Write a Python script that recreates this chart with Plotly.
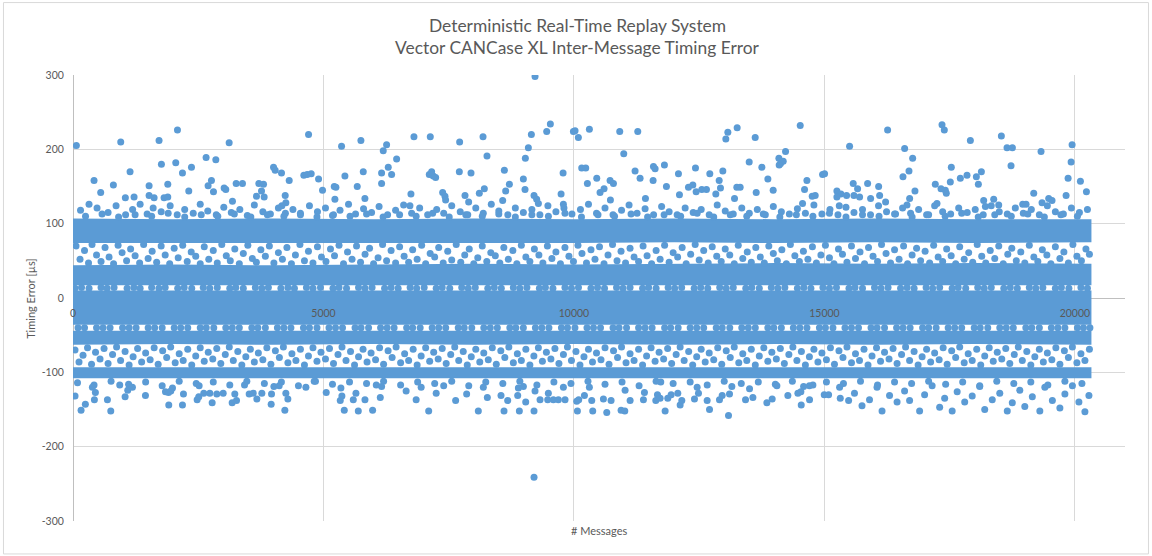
import plotly.graph_objects as go

BLUE = "#5B9BD5"
TXT = "#595959"
GRID = "#D9D9D9"

# ---- titles ----
title_lines = ["Deterministic Real-Time Replay System",
               "Vector CANCase XL Inter-Message Timing Error"]
x_title = "# Messages"
y_title = "Timing Error [µs]"

# ---- axis ticks ----
x_tick_vals = [0, 5000, 10000, 15000, 20000]
x_tick_text = ["0", "5000", "10000", "15000", "20000"]
y_tick_vals = [-300, -200, -100, 0, 100, 200, 300]
y_tick_text = ["-300", "-200", "-100", "0", "100", "200", "300"]

# ---- dense bands (visual extent, µs) ----
band_x = [0, 2000, 4000, 6000, 8000, 10000, 12000, 14000, 16000, 18000, 20330]
top_hi = [107, 106, 107, 106, 107, 106, 107, 106, 107, 106, 106]
top_lo = [74, 75, 74, 75, 74, 74, 75, 74, 75, 74, 75]
mid_hi = [44, 45, 44, 45, 46, 45, 46, 47, 46, 47, 46]
mid_lo = [17, 17, 17, 17, 17, 17, 17, 17, 17, 17, 17]
cen_hi = [10, 10, 10, 10, 10, 10, 10, 10, 10, 10, 10]
cen_lo = [-36, -36, -36, -36, -36, -36, -36, -36, -36, -36, -36]
low_hi = [-44, -44, -44, -44, -44, -44, -44, -44, -44, -44, -44]
low_lo = [-63, -62, -63, -62, -63, -62, -63, -62, -63, -62, -63]
bot_hi = [-93, -93, -93, -93, -93, -93, -93, -93, -93, -93, -93]
bot_lo = [-108, -108, -108, -108, -108, -108, -108, -108, -108, -108, -108]

# ---- individual messages (x = message #, y = timing error µs) ----
top_outliers = [(67,205),(953,210),(1718,212),(2085,226),(3117,209),(4702,220),(5361,204),(5747,212),(6193,198),(6260,206),(6460,187),(6806,217),(7132,217),(7718,210),(8185,217),(8264,191),(9090,202),(9030,188),(9150,220),(9456,224),(9529,234),(9989,224),(9223,298),
(420,158),(806,152),(553,142),(1139,170),(1045,135),(1219,136),(1519,151),(1519,138),(1619,135),(1765,180),(1892,153),(1818,135),(1892,136),(2051,182),(2185,168),(2365,176),(2311,144),(2657,189),(2851,186),(2764,158),(2697,151),(2804,143),(3017,148),(3050,146),(3183,130),(3257,154),(3383,154),(3710,154),(3803,153),(3763,144),(3663,137),(3816,136),(4003,176),(4036,172),(4162,168),(4316,158),(4236,138),(4249,128),(4169,124),(4608,165),(4675,166),(4755,167),(4902,160),(4981,145),(5215,150),(5248,149),(5228,133),(5428,164),(5674,150),(5827,134),(5794,170),(6160,168),(6160,154),(6360,166),(6293,176),(6746,140),(6726,124),(7112,166),(7192,164),(7159,170),(7239,162),(7379,142),(7425,137),(7438,132),(7712,170),(7945,168),(7825,138),(7898,129),(8111,141),(8211,147),(8611,172),(8637,144),(8711,153),(8577,131),(8990,160),(9023,146),(9203,138),(9256,133),(9290,127),(9783,168),(9743,140),(9789,126),
(10022,225),(10088,216),(10308,227),(10914,224),(11274,224),(10994,194),(10155,175),(10235,175),(10455,161),(10268,154),(10721,158),(10788,154),(10521,142),(10601,147),(10728,132),(11220,171),(11320,161),(11587,177),(11620,174),(11806,179),(11580,158),(11427,134),(11846,150),(12086,167),(12106,139),(12426,175),(12286,149),(12373,152),(12439,143),(12552,146),(12645,146),(12712,167),(12832,140),(12899,158),(12925,148),(12972,171),(13032,214),(13072,223),(13258,229),(13618,216),(13498,183),(13751,176),(13871,160),(13977,145),(13638,142),(13251,149),(13318,149),(13205,134),(14091,188),(14124,181),(14177,184),(14224,197),(14097,179),(14517,232),(14650,158),(14603,146),(14563,127),(14756,137),(14816,138),(14963,166),(15003,167),(15249,144),(15329,140),(15249,136),(15296,124),(15442,138),(15575,154),(15662,147),(15589,138),(15702,136),(15502,204),(15862,154),(15922,134),(16082,150),(16102,138),(16261,226),(16221,129),(16601,201),(16761,188),(16688,171),(16568,163),(16807,144),(16701,134),(16648,125),(17347,233),(17393,226),(17213,153),(17327,147),(17413,145),(17513,156),(17533,176),(17433,141),(17247,127),(17913,212),(17713,161),(17846,165),(18033,163),(18133,170),(18073,153),(18532,218),(18645,202),(18752,202),(18725,178),(18179,131),(18379,133),(18479,125),(18213,123),(19324,197),(19178,141),(19344,128),(19477,134),(19543,131),(19944,206),(19924,183),(19864,161),(19824,138),(20110,157),(20230,143),(18958,126),(19025,126)]

near_top = [(150,118),(320,126),(480,121),(700,115),(860,124),(1050,112),(1190,119),(1340,126),(1480,113),(1600,121),(1760,116),(1940,124),(2080,112),(2230,119),(2400,114),(2540,126),(2690,117),(2860,112),(3010,122),(3160,115),(3330,119),(3480,111),(3620,125),(3790,116),(3940,113),(4100,121),(4240,114),(4390,119),(4540,112),(4720,124),(4880,116),(5040,121),(5180,111),(5330,118),(5500,126),(5640,113),(5800,120),(5960,115),(6110,123),(6280,112),(6440,118),(6600,125),(6760,114),(6920,121),(7080,112),(7260,119),(7400,114),(7560,124),(7730,116),(7880,112),(8040,121),(8190,114),(8350,126),(8500,117),(8680,112),(8830,121),(8990,115),(9160,119),(9320,112),(9480,124),(9640,116),(9800,121),(9960,113),(10130,119),(10290,126),(10450,114),(10620,121),(10780,112),(10950,118),(11100,125),(11260,114),(11420,120),(11590,112),(11750,123),(11900,116),(12060,112),(12220,121),(12380,115),(12540,119),(12700,112),(12860,125),(13020,117),(13180,113),(13350,121),(13500,114),(13660,119),(13820,112),(13980,123),(14140,116),(14300,113),(14460,120),(14620,114),(14790,125),(14950,113),(15110,119),(15270,112),(15430,122),(15590,115),(15760,119),(15920,112),(16080,124),(16240,116),(16400,113),(16560,121),(16720,114),(16880,119),(17040,112),(17200,124),(17360,116),(17520,113),(17680,121),(17850,115),(18010,119),(18170,112),(18330,124),(18490,116),(18650,113),(18810,121),(18970,114),(19130,119),(19290,112),(19450,124),(19610,116),(19770,113),(19930,121),(20090,115),(20250,119)]

near_top2 = [(250,110),(580,113),(910,109),(1240,112),(1570,110),(1900,114),(2230,109),(2560,112),(2890,110),(3220,113),(3550,109),(3880,112),(4210,110),(4540,114),(4870,109),(5200,112),(5530,110),(5860,113),(6190,109),(6520,112),(6850,110),(7180,114),(7510,109),(7840,112),(8170,110),(8500,113),(8830,109),(9160,112),(9490,110),(9820,114),(10150,109),(10480,112),(10810,110),(11140,113),(11470,109),(11800,112),(12130,110),(12460,114),(12790,109),(13120,112),(13450,110),(13780,113),(14110,109),(14440,112),(14770,110),(15100,114),(15430,109),(15760,112),(16090,110),(16420,113),(16750,109),(17080,112),(17410,110),(17740,114),(18070,109),(18400,112),(18730,110),(19060,113),(19390,109),(19720,112),(20050,110)]

gap_hi = [(60,70),(140,52),(230,64),(310,47),(380,72),(470,58),(560,49),(640,68),(720,55),(810,46),(900,71),(980,61),(1070,50),(1150,66),(1240,57),(1330,47),(1410,72),(1500,53),(1580,63),(1670,48),(1760,70),(1840,58),(1930,46),(2020,67),(2100,54),(2190,71),(2280,49),(2360,62),(2450,56),(2540,46),(2620,69),(2710,52),(2800,64),(2880,47),(2970,72),(3060,57),(3140,50),(3230,66),(3320,46),(3400,60),(3490,71),(3580,53),(3660,48),(3750,65),(3840,56),(3920,70),(4010,47),(4100,61),(4180,52),(4270,68),(4360,46),(4440,58),(4530,72),(4620,50),(4700,63),(4790,47),(4880,69),(4960,55),(5050,49),(5140,66),(5220,57),(5310,71),(5400,46),(5480,62),(5570,52),(5660,70),(5740,48),(5830,59),(5920,67),(6000,46),(6090,54),(6180,72),(6260,50),(6350,64),(6440,47),(6520,69),(6610,56),(6700,48),(6780,65),(6870,52),(6960,71),(7040,46),(7130,60),(7220,55),(7300,68),(7390,47),(7480,63),(7560,51),(7650,72),(7740,48),(7820,58),(7910,66),(8000,46),(8080,54),(8170,70),(8260,49),(8340,61),(8430,57),(8520,47),(8600,68),(8690,52),(8780,64),(8860,46),(8950,71),(9040,55),(9120,49),(9210,66),(9300,58),(9380,47),(9470,70),(9560,53),(9640,62),(9730,46),(9820,68),(9900,56),(9990,49),(10080,71),(10160,60),(10250,47),(10340,65),(10420,52),(10510,69),(10600,46),(10680,58),(10770,72),(10860,50),(10940,63),(11030,47),(11120,67),(11200,55),(11290,49),(11380,70),(11460,57),(11550,46),(11640,64),(11720,52),(11810,71),(11900,48),(11980,61),(12070,55),(12160,68),(12240,46),(12330,59),(12420,72),(12500,51),(12590,64),(12680,47),(12760,69),(12850,56),(12940,49),(13020,66),(13110,58),(13200,46),(13280,71),(13370,53),(13460,62),(13540,48),(13630,68),(13720,55),(13800,47),(13890,70),(13980,60),(14060,50),(14150,65),(14240,46),(14320,72),(14410,57),(14500,49),(14580,63),(14670,52),(14760,69),(14840,47),(14930,58),(15020,71),(15100,54),(15190,46),(15280,66),(15360,59),(15450,48),(15540,70),(15620,53),(15710,62),(15800,46),(15880,68),(15970,56),(16060,49),(16140,72),(16230,60),(16320,47),(16400,65),(16490,52),(16580,70),(16660,46),(16750,58),(16840,67),(16920,50),(17010,63),(17100,47),(17180,71),(17270,55),(17360,49),(17440,66),(17530,57),(17620,46),(17700,69),(17790,52),(17880,61),(17960,48),(18050,72),(18140,56),(18220,47),(18310,64),(18400,53),(18480,70),(18570,46),(18660,59),(18740,67),(18830,50),(18920,62),(19000,47),(19090,71),(19180,55),(19260,49),(19350,65),(19440,58),(19520,46),(19610,69),(19700,53),(19780,62),(19870,47),(19960,72),(20040,56),(20130,50),(20220,66),(20290,59)]

row_c = [(40,13),(170,14),(320,13),(560,14),(680,13),(820,14),(1080,13),(1215,14),(1340,13),(1570,14),(1715,13),(1840,14),(2090,13),(2220,14),(2370,13),(2600,14),(2730,13),(2880,14),(3130,13),(3250,14),(3400,13),(3640,14),(3770,13),(3900,14),(4150,13),(4290,14),(4420,13),(4660,14),(4790,13),(4940,14),(5190,13),(5310,14),(5460,13),(5700,14),(5830,13),(5970,14),(6220,13),(6350,14),(6490,13),(6730,14),(6860,13),(7010,14),(7250,13),(7370,14),(7520,13),(7760,14),(7890,13),(8030,14),(8280,13),(8410,14),(8550,13),(8790,14),(8920,13),(9060,14),(9310,13),(9430,14),(9580,13),(9820,14),(9950,13),(10090,14),(10340,13),(10470,14),(10610,13),(10850,14),(10980,13),(11120,14),(11370,13),(11490,14),(11640,13),(11880,14),(12010,13),(12150,14),(12400,13),(12530,14),(12670,13),(12910,14),(13040,13),(13180,14),(13430,13),(13550,14),(13700,13),(13940,14),(14070,13),(14210,14),(14460,13),(14590,14),(14730,13),(14970,14),(15100,13),(15240,14),(15490,13),(15610,14),(15760,13),(16000,14),(16130,13),(16270,14),(16520,13),(16650,14),(16790,13),(17030,14),(17160,13),(17300,14),(17550,13),(17670,14),(17820,13),(18060,14),(18190,13),(18330,14),(18580,13),(18710,14),(18850,13),(19090,14),(19220,13),(19360,14),(19610,13),(19730,14),(19880,13),(20120,14),(20250,13)]

row_d = [(100,-40),(230,-40),(470,-40),(600,-40),(740,-40),(990,-40),(1120,-40),(1260,-40),(1500,-40),(1630,-40),(1780,-40),(2020,-40),(2150,-40),(2290,-40),(2540,-40),(2660,-40),(2810,-40),(3050,-40),(3180,-40),(3320,-40),(3570,-40),(3690,-40),(3840,-40),(4080,-40),(4210,-40),(4350,-40),(4600,-40),(4720,-40),(4870,-40),(5110,-40),(5240,-40),(5380,-40),(5630,-40),(5750,-40),(5900,-40),(6140,-40),(6270,-40),(6410,-40),(6660,-40),(6780,-40),(6930,-40),(7170,-40),(7300,-40),(7440,-40),(7690,-40),(7810,-40),(7960,-40),(8200,-40),(8330,-40),(8470,-40),(8720,-40),(8840,-40),(8990,-40),(9230,-40),(9360,-40),(9500,-40),(9750,-40),(9870,-40),(10020,-40),(10260,-40),(10390,-40),(10530,-40),(10780,-40),(10900,-40),(11050,-40),(11290,-40),(11420,-40),(11560,-40),(11810,-40),(11930,-40),(12080,-40),(12320,-40),(12450,-40),(12590,-40),(12840,-40),(12960,-40),(13110,-40),(13350,-40),(13480,-40),(13620,-40),(13870,-40),(13990,-40),(14140,-40),(14380,-40),(14510,-40),(14650,-40),(14900,-40),(15020,-40),(15170,-40),(15410,-40),(15540,-40),(15680,-40),(15930,-40),(16050,-40),(16200,-40),(16440,-40),(16570,-40),(16710,-40),(16960,-40),(17080,-40),(17230,-40),(17470,-40),(17600,-40),(17740,-40),(17990,-40),(18110,-40),(18260,-40),(18500,-40),(18630,-40),(18770,-40),(19020,-40),(19140,-40),(19290,-40),(19530,-40),(19660,-40),(19800,-40),(20050,-40),(20170,-40),(20300,-40)]

gap_lo = [(40,-70),(120,-86),(200,-77),(290,-67),(370,-89),(450,-73),(540,-82),(620,-68),(700,-88),(790,-76),(870,-66),(950,-84),(1040,-72),(1120,-90),(1200,-79),(1290,-68),(1370,-86),(1450,-74),(1540,-83),(1620,-67),(1700,-89),(1790,-71),(1870,-80),(1950,-66),(2040,-87),(2120,-75),(2200,-84),(2290,-69),(2370,-90),(2450,-78),(2540,-67),(2620,-85),(2700,-73),(2790,-82),(2870,-68),(2950,-88),(3040,-76),(3120,-66),(3200,-84),(3290,-72),(3370,-90),(3450,-79),(3540,-69),(3620,-86),(3700,-74),(3790,-83),(3870,-67),(3950,-89),(4040,-71),(4120,-80),(4200,-66),(4290,-87),(4370,-75),(4450,-84),(4540,-69),(4620,-90),(4700,-78),(4790,-67),(4870,-85),(4950,-73),(5040,-82),(5120,-68),(5200,-88),(5290,-76),(5370,-66),(5450,-84),(5540,-72),(5620,-90),(5700,-79),(5790,-69),(5870,-86),(5950,-74),(6040,-83),(6120,-67),(6200,-89),(6290,-71),(6370,-80),(6450,-66),(6540,-87),(6620,-75),(6700,-84),(6790,-69),(6870,-90),(6950,-78),(7040,-67),(7120,-85),(7200,-73),(7290,-82),(7370,-68),(7450,-88),(7540,-76),(7620,-66),(7700,-84),(7790,-72),(7870,-90),(7950,-79),(8040,-69),(8120,-86),(8200,-74),(8290,-83),(8370,-67),(8450,-89),(8540,-71),(8620,-80),(8700,-66),(8790,-87),(8870,-75),(8950,-84),(9040,-69),(9120,-90),(9200,-78),(9290,-67),(9370,-85),(9450,-73),(9540,-82),(9620,-68),(9700,-88),(9790,-76),(9870,-66),(9950,-84),(10040,-72),(10120,-90),(10200,-79),(10290,-69),(10370,-86),(10450,-74),(10540,-83),(10620,-67),(10700,-89),(10790,-71),(10870,-80),(10950,-66),(11040,-87),(11120,-75),(11200,-84),(11290,-69),(11370,-90),(11450,-78),(11540,-67),(11620,-85),(11700,-73),(11790,-82),(11870,-68),(11950,-88),(12040,-76),(12120,-66),(12200,-84),(12290,-72),(12370,-90),(12450,-79),(12540,-69),(12620,-86),(12700,-74),(12790,-83),(12870,-67),(12950,-89),(13040,-71),(13120,-80),(13200,-66),(13290,-87),(13370,-75),(13450,-84),(13540,-69),(13620,-90),(13700,-78),(13790,-67),(13870,-85),(13950,-73),(14040,-82),(14120,-68),(14200,-88),(14290,-76),(14370,-66),(14450,-84),(14540,-72),(14620,-90),(14700,-79),(14790,-69),(14870,-86),(14950,-74),(15040,-83),(15120,-67),(15200,-89),(15290,-71),(15370,-80),(15450,-66),(15540,-87),(15620,-75),(15700,-84),(15790,-69),(15870,-90),(15950,-78),(16040,-67),(16120,-85),(16200,-73),(16290,-82),(16370,-68),(16450,-88),(16540,-76),(16620,-66),(16700,-84),(16790,-72),(16870,-90),(16950,-79),(17040,-69),(17120,-86),(17200,-74),(17290,-83),(17370,-67),(17450,-89),(17540,-71),(17620,-80),(17700,-66),(17790,-87),(17870,-75),(17950,-84),(18040,-69),(18120,-90),(18200,-78),(18290,-67),(18370,-85),(18450,-73),(18540,-82),(18620,-68),(18700,-88),(18790,-76),(18870,-66),(18950,-84),(19040,-72),(19120,-90),(19200,-79),(19290,-69),(19370,-86),(19450,-74),(19540,-83),(19620,-67),(19700,-89),(19790,-71),(19870,-80),(19950,-66),(20040,-87),(20120,-75),(20200,-84),(20290,-69)]

near_bottom = [(90,-114),(420,-117),(760,-112),(1110,-116),(1450,-113),(1780,-118),(2120,-112),(2460,-115),(2800,-113),(3130,-117),(3470,-112),(3820,-115),(4160,-113),(4500,-118),(4840,-112),(5180,-116),(5520,-113),(5860,-115),(6200,-112),(6540,-117),(6880,-113),(7220,-115),(7560,-112),(7900,-118),(8240,-113),(8580,-115),(8920,-112),(9260,-117),(9600,-113),(9940,-115),(10280,-112),(10620,-116),(10960,-113),(11300,-118),(11640,-112),(11980,-115),(12320,-113),(12660,-117),(13000,-112),(13340,-115),(13680,-113),(14020,-116),(14360,-112),(14700,-118),(15040,-113),(15380,-115),(15720,-112),(16060,-117),(16400,-113),(16740,-115),(17080,-112),(17420,-116),(17760,-113),(18100,-118),(18440,-112),(18780,-115),(19120,-113),(19460,-117),(19800,-112),(20140,-115)]

bottom_outliers = [(41,-132),(161,-151),(247,-143),(387,-120),(447,-127),(427,-137),(687,-137),(754,-152),(933,-117),(1040,-133),(1093,-124),(1186,-120),(1446,-131),(1846,-126),(1906,-127),(1986,-121),(1952,-125),(1912,-144),(2185,-144),(2205,-129),(2478,-137),(2511,-133),(2518,-118),(2611,-128),(2731,-128),(2778,-141),(2871,-129),(2998,-128),(3177,-141),(3264,-138),(3230,-129),(3424,-117),(3517,-129),(3597,-128),(3670,-136),(3770,-128),(3963,-129),(3956,-143),(4010,-119),(4116,-118),(4249,-128),(4289,-136),(4229,-151),(4649,-120),(4815,-112),(5055,-127),(5348,-121),(5368,-132),(5335,-138),(5415,-151),(5648,-128),(5595,-137),(5695,-152),(5828,-137),(5981,-151),(6054,-117),(6160,-119),(6134,-134),
(6650,-125),(6850,-137),(7100,-152),(7250,-128),(7400,-118),(6950,-120),
(7638,-138),(7858,-129),(8091,-152),(8191,-120),(8271,-134),(8544,-131),(8677,-138),(8604,-152),(8890,-121),(8990,-119),(8877,-131),(9037,-140),(8910,-152),(9223,-125),(9203,-152),(9203,-241),(9323,-137),(9489,-128),(9476,-137),(9589,-137),(9689,-137),(9822,-137),(9789,-120),(10055,-139),(10095,-137),(10069,-152),(10209,-131),(10308,-120),(10355,-138),(10375,-152),(10588,-136),(10655,-154),(10741,-138),(10941,-151),(11015,-152),(11021,-124),(11121,-138),(11387,-137),(11407,-127),(11634,-138),(11667,-130),(11720,-135),(11820,-152),(11873,-135),(11940,-130),(12073,-128),(12120,-144),(12153,-138),(11733,-113),(12406,-136),(12459,-120),(12486,-128),(12659,-138),(12706,-150),(12905,-137),(12959,-131),(13105,-129),(13152,-119),(13085,-158),(13425,-137),(13505,-122),(13572,-134),(13851,-141),(13957,-136),(14051,-118),(14270,-131),(14470,-128),(14530,-126),(14584,-119),(14537,-144),(14703,-137),(14770,-117),(14996,-130),(15083,-130),(15303,-120),(15316,-135),(15483,-138),
(15600,-128),(15750,-145),(15900,-137),(16050,-120),(16150,-152),(16300,-131),(16450,-140),(16600,-125),(16700,-138),(16900,-152),(17000,-130),(17150,-118),(17300,-147),(17400,-135),(17550,-152),(17650,-126),(17800,-140),(17950,-132),(18100,-119),(18200,-150),(18350,-137),(18500,-128),(18650,-152),(18750,-141),(18900,-124),(19000,-146),(19150,-133),(19300,-152),(19400,-120),(19550,-138),(19700,-148),(19800,-129),(19950,-118),(20080,-140),(20200,-153),(20280,-131)]

fig = go.Figure()

bands = [(top_hi, top_lo), (mid_hi, mid_lo), (cen_hi, cen_lo), (low_hi, low_lo), (bot_hi, bot_lo)]
for hi, lo in bands:
    fig.add_trace(go.Scatter(
        x=band_x + band_x[::-1], y=hi + lo[::-1],
        fill="toself", mode="lines", line=dict(width=0, color=BLUE),
        fillcolor=BLUE, hoverinfo="skip", showlegend=False))

points = (top_outliers + near_top + near_top2 + gap_hi + row_c + row_d
          + gap_lo + near_bottom + bottom_outliers)
px = [p[0] for p in points]
py = [p[1] for p in points]
fig.add_trace(go.Scatter(
    x=px, y=py, mode="markers",
    marker=dict(size=7, color=BLUE, line=dict(width=0)),
    showlegend=False, name="Timing Error"))

fig.update_layout(
    width=1152, height=556,
    margin=dict(l=73, r=27, t=75, b=35),
    paper_bgcolor="white", plot_bgcolor="white",
    font=dict(family="Lato", color=TXT),
    xaxis=dict(
        range=[0, 21000], tickmode="array", tickvals=x_tick_vals, ticktext=x_tick_text,
        anchor="free", position=0.5, showline=False,
        showgrid=True, gridcolor=GRID, gridwidth=1,
        zeroline=True, zerolinecolor="#BFBFBF", zerolinewidth=1,
        ticks="outside", ticklen=5, tickcolor="rgba(0,0,0,0)",
        tickfont=dict(family="Lato", size=10.5, color=TXT)),
    yaxis=dict(
        range=[-300, 300], tickmode="array", tickvals=y_tick_vals, ticktext=y_tick_text,
        showgrid=True, gridcolor=GRID, gridwidth=1,
        zeroline=True, zerolinecolor="#BFBFBF", zerolinewidth=1,
        showline=False, ticks="outside", ticklen=6, tickcolor="rgba(0,0,0,0)",
        tickfont=dict(family="Lato", size=10.5, color=TXT)),
    annotations=[
        dict(text=title_lines[0], xref="paper", yref="paper", x=0.48, y=1.112,
             xanchor="center", yanchor="middle", showarrow=False,
             font=dict(family="Lato", size=17.4, color=TXT)),
        dict(text=title_lines[1], xref="paper", yref="paper", x=0.48, y=1.0627,
             xanchor="center", yanchor="middle", showarrow=False,
             font=dict(family="Lato", size=17.4, color=TXT)),
        dict(text=x_title, xref="paper", yref="paper", x=0.5, y=-0.021,
             xanchor="center", yanchor="middle", showarrow=False,
             font=dict(family="Lato", size=11, color=TXT)),
        dict(text=y_title, xref="paper", yref="paper", x=-0.041, y=0.5,
             xanchor="center", yanchor="middle", textangle=-90, showarrow=False,
             font=dict(family="Lato", size=11, color=TXT)),
    ],
    shapes=[dict(type="rect", xref="paper", yref="paper",
                 x0=-0.0661, x1=1.0223, y0=-0.0739, y1=1.1624,
                 line=dict(color=GRID, width=1), fillcolor="rgba(0,0,0,0)", layer="below")],
)

fig.write_html("out.html", config={"displayModeBar": False},
               post_script="document.body.style.margin='0';")
